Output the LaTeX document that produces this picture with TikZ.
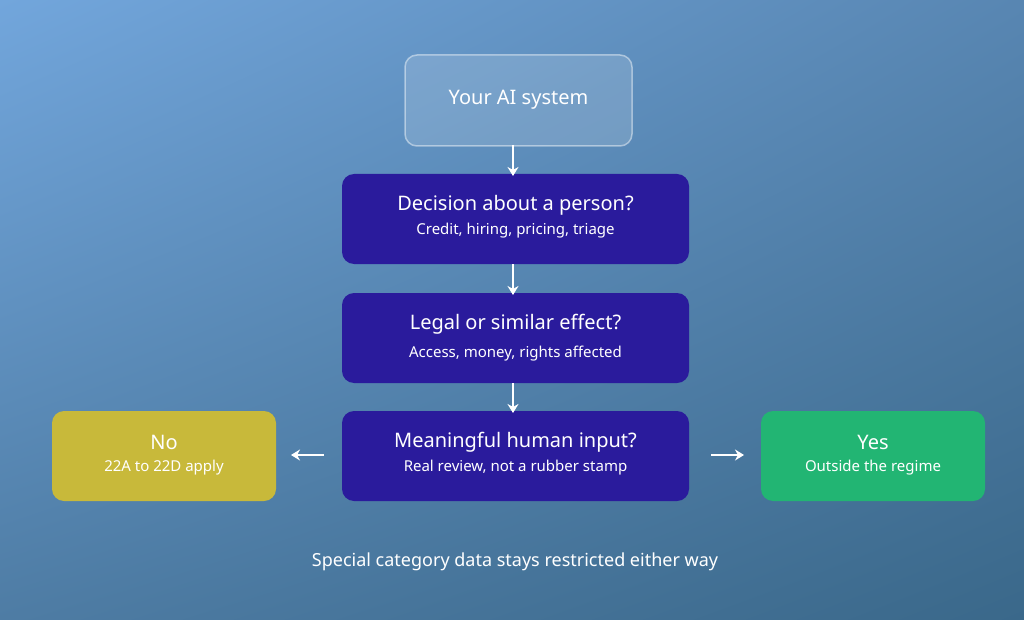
\documentclass[tikz,border=0pt]{standalone}
\usepackage{fontspec}
\setmainfont{Noto Sans}
\usetikzlibrary{arrows.meta,shadings}
\definecolor{indig}{HTML}{2A1B9C}
\definecolor{olive}{HTML}{C8B93A}
\definecolor{grn}{HTML}{22B573}
\definecolor{bgul}{RGB}{114,166,220}
\definecolor{bgur}{RGB}{88,134,178}
\definecolor{bgll}{RGB}{78,124,164}
\definecolor{bglr}{RGB}{58,104,138}
\begin{document}
\begin{tikzpicture}[x=1pt,y=-1pt,
  ttl/.style={font=\fontsize{20}{24}\selectfont\bfseries},
  sub/.style={font=\fontsize{15}{18}\selectfont},
  arr/.style={white,line width=2.6pt,-{Stealth[length=9pt,width=11pt]}}]
\shade[upper left=bgul,upper right=bgur,lower left=bgll,lower right=bglr]
  (0,0) rectangle (1024,620);
\useasboundingbox (0,0) rectangle (1024,620);
\draw[rounded corners=12pt,fill=white,fill opacity=0.15,draw=white,draw opacity=0.45,line width=1.5pt]
  (405,55) rectangle (632,146);
\node[text=white,ttl] (ai) at (518.5,100) {Your AI system};
\fill[indig,rounded corners=12pt] (342,174) rectangle (689,264);
\node[text=white,ttl] (d1) at (515.5,205) {Decision about a person?};
\node[text=white,sub] (d1s) at (515.5,231) {Credit, hiring, pricing, triage};
\fill[indig,rounded corners=12pt] (342,293) rectangle (689,383);
\node[text=white,ttl] (d2) at (515.5,324) {Legal or similar effect?};
\node[text=white,sub] (d2s) at (515.5,354) {Access, money, rights affected};
\fill[indig,rounded corners=12pt] (342,411) rectangle (689,501);
\node[text=white,ttl] (d3) at (515.5,442) {Meaningful human input?};
\node[text=white,sub] (d3s) at (515.5,468) {Real review, not a rubber stamp};
\fill[olive,rounded corners=12pt] (52,411) rectangle (276,501);
\node[text=white,ttl] (no) at (164,442) {No};
\node[text=white,sub] (nos) at (164,468) {22A to 22D apply};
\fill[grn,rounded corners=12pt] (761,411) rectangle (985,501);
\node[text=white,ttl] (yes) at (873,442) {Yes};
\node[text=white,sub] (yess) at (873,468) {Outside the regime};
\coordinate (a1s) at (513,145); \coordinate (a1e) at (513,176);
\coordinate (a2s) at (513,264); \coordinate (a2e) at (513,295);
\coordinate (a3s) at (513,383); \coordinate (a3e) at (513,413);
\coordinate (l1) at (324,455); \coordinate (l2) at (291,455);
\coordinate (r1) at (711,455); \coordinate (r2) at (744,455);
\draw[arr] (a1s) -- (a1e);
\draw[arr] (a2s) -- (a2e);
\draw[arr] (a3s) -- (a3e);
\draw[arr] (l1) -- (l2);
\draw[arr] (r1) -- (r2);
\node[text=white,font=\fontsize{18}{22}\selectfont] (foot) at (515,562) {Special category data stays restricted either way};
\end{tikzpicture}
\end{document}
